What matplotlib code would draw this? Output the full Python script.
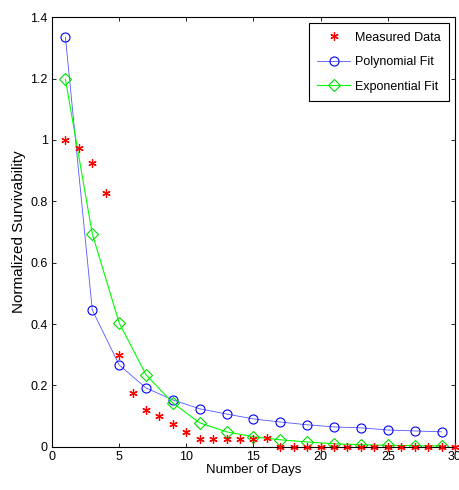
import matplotlib
matplotlib.use("Agg")
import matplotlib.pyplot as plt

plt.rcParams['font.family'] = ['Liberation Sans', 'DejaVu Sans']

# measured survivability, days 1..30
days_meas = list(range(1, 31))
measured = [1.0, 0.975, 0.925, 0.827, 0.30, 0.176, 0.12, 0.10, 0.075, 0.05,
            0.027, 0.027, 0.027, 0.027, 0.025, 0.03, 0.0, 0.0, 0.0, 0.0,
            0.0, 0.0, 0.0, 0.0, 0.0, 0.0, 0.0, 0.0, 0.0, 0.0]

# fits evaluated on odd days
days_fit = list(range(1, 30, 2))
poly_fit = [1.335, 0.446, 0.267, 0.192, 0.153, 0.124, 0.107, 0.091,
            0.081, 0.072, 0.065, 0.062, 0.055, 0.052, 0.049]
exp_fit = [1.198, 0.694, 0.404, 0.235, 0.143, 0.078, 0.049, 0.033,
           0.023, 0.016, 0.010, 0.007, 0.005, 0.004, 0.003]

fig = plt.figure(figsize=(4.6, 4.9), dpi=100)
ax = fig.add_axes([0.113, 0.088, 0.876, 0.877])

ax.plot(days_meas, measured, linestyle='none', marker=(6, 2, 0), color='red',
        markersize=6, markeredgewidth=0.9, label='Measured Data', clip_on=False, zorder=3)
ax.plot(days_fit, poly_fit, color='#5555ff', linewidth=0.6, marker='o',
        markerfacecolor='none', markeredgecolor='#0000ff', markersize=6.5,
        markeredgewidth=0.8, label='Polynomial Fit')
ax.plot(days_fit, exp_fit, color='#00ff00', linewidth=0.8, marker='D',
        markerfacecolor='none', markeredgecolor='#00dd00', markersize=6,
        markeredgewidth=0.8, label='Exponential Fit')

ax.set_xlim(0, 30)
ax.set_ylim(0, 1.4)
ax.set_xticks([0, 5, 10, 15, 20, 25, 30])
ax.set_yticks([0, 0.2, 0.4, 0.6, 0.8, 1.0, 1.2, 1.4])
ax.set_yticklabels(['0', '0.2', '0.4', '0.6', '0.8', '1', '1.2', '1.4'])
ax.tick_params(direction='in', top=True, right=True, labelsize=9, length=3, width=0.6, pad=3)
for s in ax.spines.values():
    s.set_linewidth(0.8)

ax.set_xlabel('Number of Days', fontsize=9.5, labelpad=1)
ax.set_ylabel('Normalized Survivability', fontsize=11, labelpad=3)

leg = ax.legend(loc='upper right', fontsize=9, fancybox=False, edgecolor='black',
                framealpha=1, borderaxespad=0.45, handlelength=2.6,
                labelspacing=1.0, borderpad=0.7, handletextpad=0.4)
leg.get_frame().set_linewidth(0.8)

fig.savefig('out.png', dpi=100)
